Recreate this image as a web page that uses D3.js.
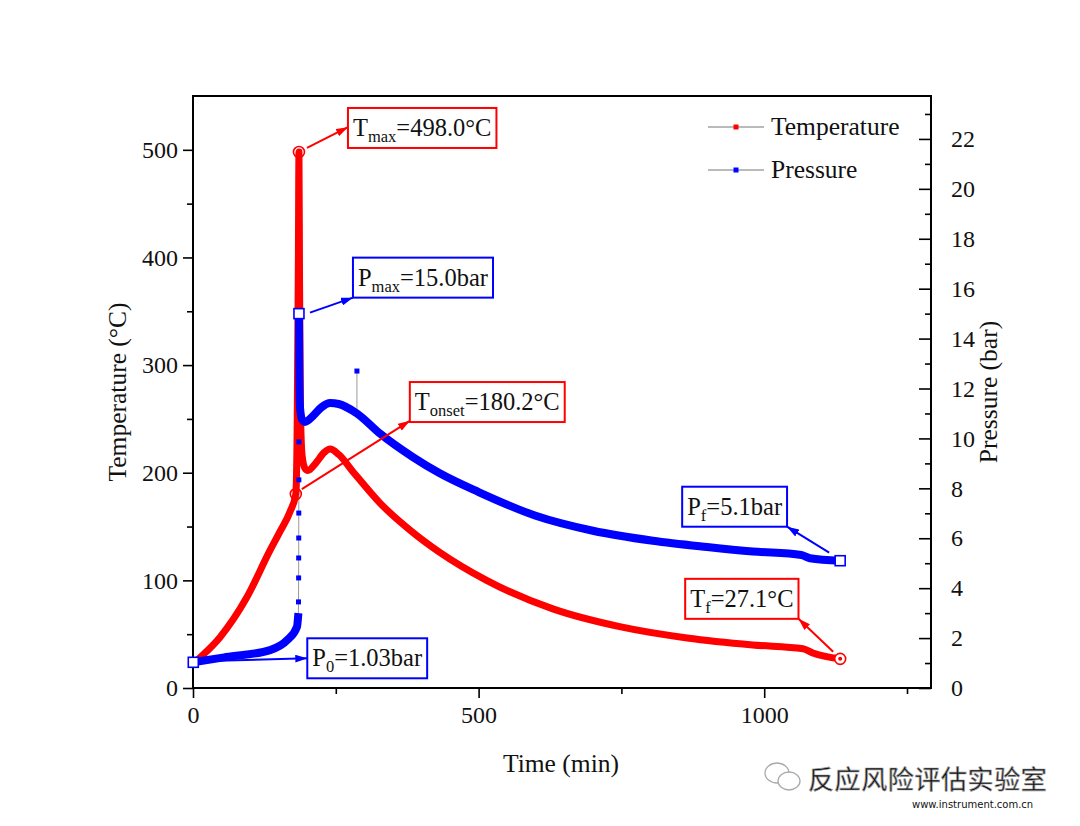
<!DOCTYPE html>
<html><head><meta charset="utf-8">
<script src="https://cdn.jsdelivr.net/npm/d3@7"></script>
<style>
body{margin:0;background:#fff}
svg{display:block}
text{font-family:"Liberation Serif","Times New Roman",serif;fill:#111}
</style>
</head><body>
<svg id="c" width="1080" height="826"></svg>
<script>
// ---------- data ----------
const timeTicks=[0,500,1000];
const timeMinor=[250,750,1250];
const tempTicks=[0,100,200,300,400,500];
const tempMinor=[50,150,250,350,450];
const pressTicks=[0,2,4,6,8,10,12,14,16,18,20,22];
const pressMinor=[1,3,5,7,9,11,13,15,17,19,21,23];

// temperature (time min, °C)
const tempMain=[[0,22],[12,28],[47,47],[94,84],[135,128],[152,145],[170,164],[180,180.2],
 [182.5,250],[184.5,400],[185.5,498],[186.5,380],[188,262],[191,216],[196,204],[201,202],
 [215,209],[230,219],[240,222],[255,217],[280,201],[327,172],[385,144.5],[432,126],[514,100],
 [630,73.5],[747,57],[865,46.5],[980,40],[1068,36.5],[1085,32.5],[1133,27.1]];
// pressure (time min, bar)
const pressStart=[[0,1.03],[58,1.24],[135,1.52],[165,1.92],[182,2.45],[184.5,3.0]];
const pressJump=[[184.7,3.45],[184.9,4.41],[185,5.21],[185.1,6.01],[185.2,7.01],[185.3,8.34],[185.4,9.86]];
const pressMain=[[185.5,15.0],[186.2,12.5],[187.5,11.2],[191,10.75],[196,10.66],[210,10.9],[225,11.25],
 [240,11.42],[255,11.38],[287,11.0],[327,10.2],[385,9.25],[432,8.6],[500,7.85],[600,6.9],[700,6.3],
 [805,5.9],[900,5.65],[980,5.47],[1065,5.33],[1080,5.2],[1133,5.1]];
const pressGlitch=[[287,11.0],[287,12.7]];

const seriesNames=["Temperature","Pressure"];
const annotations=[
 {axis:"T",t:185.5,v:498,main:"T",sub:"max",rest:"=498.0°C",marker:"circle",dx:49,dy:-44,s:[8,-4],fx:0,fy:0.48},
 {axis:"P",t:185.5,v:15.0,main:"P",sub:"max",rest:"=15.0bar",marker:"square",dx:54,dy:-56,s:[11,-1],fx:0,fy:1},
 {axis:"T",t:180,v:180.2,main:"T",sub:"onset",rest:"=180.2°C",marker:"circle",dx:114,dy:-112,s:[6,-5],fx:0,fy:0.97},
 {axis:"P",t:0.5,v:1.03,main:"P",sub:"0",rest:"=1.03bar",marker:"square",dx:114,dy:-24,s:[5,-1],fx:0,fy:0.5},
 {axis:"P",t:1133,v:5.1,main:"P",sub:"f",rest:"=5.1bar",marker:"square",dx:-158,dy:-74,s:[-11,-8],fx:1,fy:1},
 {axis:"T",t:1133,v:27.1,main:"T",sub:"f",rest:"=27.1°C",marker:"dotcircle",dx:-155,dy:-80,s:[-7,-7],fx:1,fy:1}
];

// ---------- layout ----------
const svg=d3.select("#c");
svg.append("rect").attr("width",1080).attr("height",826).attr("fill","#fff");
const L=193,R=931,T=96,B=688;
const x=d3.scaleLinear().domain([0,1292]).range([L,R]);
const yT=d3.scaleLinear().domain([0,550]).range([B,T]);
const yP=d3.scaleLinear().domain([0,23.72]).range([B,T]);
const RED="#ff0000",BLUE="#0000ff";
const FS=24, FT=25.5;

// axes
function styleAxis(g){g.selectAll("path.domain").remove();g.selectAll("line").attr("stroke","#000").attr("stroke-width",1.6);
 g.selectAll("text").attr("font-size",FS).attr("fill","#111").style("font-family","Liberation Serif");}
const gx=svg.append("g").attr("transform",`translate(0,${B})`)
 .call(d3.axisBottom(x).tickValues(timeTicks).tickSize(10).tickPadding(8).tickFormat(d3.format("d")));
styleAxis(gx);
const gxm=svg.append("g").attr("transform",`translate(0,${B})`).call(d3.axisBottom(x).tickValues(timeMinor).tickSize(6).tickFormat(""));
styleAxis(gxm);
const gl=svg.append("g").attr("transform",`translate(${L},0)`)
 .call(d3.axisLeft(yT).tickValues(tempTicks).tickSize(10).tickPadding(5));
styleAxis(gl);
const glm=svg.append("g").attr("transform",`translate(${L},0)`).call(d3.axisLeft(yT).tickValues(tempMinor).tickSize(6).tickFormat(""));
styleAxis(glm);
const gr=svg.append("g").attr("transform",`translate(${R},0)`)
 .call(d3.axisRight(yP).tickValues(pressTicks).tickSize(-12).tickPadding(20));
styleAxis(gr);
const grm=svg.append("g").attr("transform",`translate(${R},0)`).call(d3.axisRight(yP).tickValues(pressMinor).tickSize(-6).tickFormat(""));
styleAxis(grm);
// frame
svg.append("rect").attr("x",L).attr("y",T).attr("width",R-L).attr("height",B-T)
 .attr("fill","none").attr("stroke","#000").attr("stroke-width",2);

// axis titles
svg.append("text").attr("x",561).attr("y",772).attr("text-anchor","middle").attr("font-size",FT).text("Time (min)");
svg.append("text").attr("transform",`translate(126,392) rotate(-90)`).attr("text-anchor","middle").attr("font-size",FT).text("Temperature (°C)");
svg.append("text").attr("transform",`translate(997,392) rotate(-90)`).attr("text-anchor","middle").attr("font-size",FT).text("Pressure (bar)");

// ---------- series ----------
const lineP=d3.line().x(d=>x(d[0])).y(d=>yP(d[1]));
const curveT=d3.line().x(d=>x(d[0])).y(d=>yT(d[1])).curve(d3.curveMonotoneX);
const curveP=d3.line().x(d=>x(d[0])).y(d=>yP(d[1])).curve(d3.curveMonotoneX);
const plot=svg.append("g");
// thin connecting lines
plot.append("path").attr("d",lineP(pressStart.concat(pressJump,pressMain))).attr("fill","none").attr("stroke","#999").attr("stroke-width",1);
plot.append("path").attr("d",lineP(pressGlitch)).attr("fill","none").attr("stroke","#999").attr("stroke-width",1);
// temperature thick
plot.append("path").attr("d",curveT(tempMain)).attr("fill","none").attr("stroke",RED).attr("stroke-width",7).attr("stroke-linejoin","round");
// pressure thick
plot.append("path").attr("d",curveP(pressStart)).attr("fill","none").attr("stroke",BLUE).attr("stroke-width",8).attr("stroke-linejoin","round");
plot.append("path").attr("d",curveP(pressMain)).attr("fill","none").attr("stroke",BLUE).attr("stroke-width",8).attr("stroke-linejoin","round");
plot.selectAll("rect.jp").data(pressJump.concat([pressGlitch[1]])).join("rect").attr("class","jp")
 .attr("x",d=>x(d[0])-2.5).attr("y",d=>yP(d[1])-2.5).attr("width",5).attr("height",5).attr("fill",BLUE);

// ---------- legend ----------
const leg=svg.append("g");
seriesNames.forEach((n,i)=>{
 const yy=127+i*43;
 leg.append("line").attr("x1",708).attr("x2",764).attr("y1",yy).attr("y2",yy).attr("stroke","#777").attr("stroke-width",1);
 leg.append("rect").attr("x",733.5).attr("y",yy-2.5).attr("width",5).attr("height",5).attr("fill",i?BLUE:RED);
 leg.append("text").attr("x",771).attr("y",yy+8).attr("font-size",FT).text(n);
});

// ---------- annotations ----------
const defs=svg.append("defs");
[["aR",RED],["aB",BLUE]].forEach(([id,c])=>{
 defs.append("marker").attr("id",id).attr("viewBox","0 0 12 8").attr("refX",12).attr("refY",4)
  .attr("markerWidth",12).attr("markerHeight",8).attr("markerUnits","userSpaceOnUse").attr("orient","auto")
  .append("path").attr("d","M0,0L12,4L0,8Z").attr("fill",c);
});
const ann=svg.append("g");
annotations.forEach(a=>{
 const c=a.axis==="T"?RED:BLUE;
 const ax=x(a.t), ay=(a.axis==="T"?yT:yP)(a.v);
 const g=ann.append("g");
 const txt=g.append("text").attr("font-size",FS+0.5);
 txt.append("tspan").text(a.main);
 txt.append("tspan").attr("font-size",16.5).attr("dy",6).text(a.sub);
 txt.append("tspan").attr("dy",-6).text(a.rest);
 const w=txt.node().getComputedTextLength();
 const bw=w+10,bh=40;
 const bx=ax+a.dx, by=ay+a.dy;
 txt.attr("x",bx+5).attr("y",by+28);
 g.insert("rect","text").attr("x",bx).attr("y",by).attr("width",bw).attr("height",bh)
  .attr("fill","#fff").attr("stroke",c).attr("stroke-width",2);
 const ex=bx+a.fx*bw, ey=by+a.fy*bh;
 ann.append("line").attr("x1",ax+a.s[0]).attr("y1",ay+a.s[1]).attr("x2",ex).attr("y2",ey)
  .attr("stroke",c).attr("stroke-width",2).attr("marker-end",`url(#${a.axis==="T"?"aR":"aB"})`);
 if(a.marker==="circle"||a.marker==="dotcircle"){
  ann.append("circle").attr("cx",ax).attr("cy",ay).attr("r",5.5).attr("fill",a.marker==="dotcircle"?"#fff":"none").attr("stroke",c).attr("stroke-width",1.6);
  if(a.marker==="dotcircle")ann.append("circle").attr("cx",ax).attr("cy",ay).attr("r",2).attr("fill",c);
 } else {
  ann.append("rect").attr("x",ax-5).attr("y",ay-5).attr("width",10).attr("height",10).attr("fill","#fff").attr("stroke",c).attr("stroke-width",1.6);
 }
});

// ---------- watermark ----------
const wm=svg.append("g");
wm.append("ellipse").attr("cx",777).attr("cy",773).attr("rx",12).attr("ry",10).attr("fill","#fff").attr("stroke","#aaa").attr("stroke-width",1.3);
wm.append("ellipse").attr("cx",789).attr("cy",781).attr("rx",11).attr("ry",9).attr("fill","#fff").attr("stroke","#aaa").attr("stroke-width",1.3);
wm.append("text").attr("x",808).attr("y",789).attr("font-size",26).attr("letter-spacing",0.6)
 .style("font-family","'Noto Sans CJK SC'").attr("fill","#ececec").attr("stroke","#9a9a9a").attr("stroke-width",0.7)
 .text("反应风险评估实验室");
wm.append("text").attr("x",912).attr("y",808).attr("font-size",10).style("font-family","DejaVu Sans")
 .attr("fill","#eeeeee").text("www.instrument.com.cn");
</script>
</body></html>
